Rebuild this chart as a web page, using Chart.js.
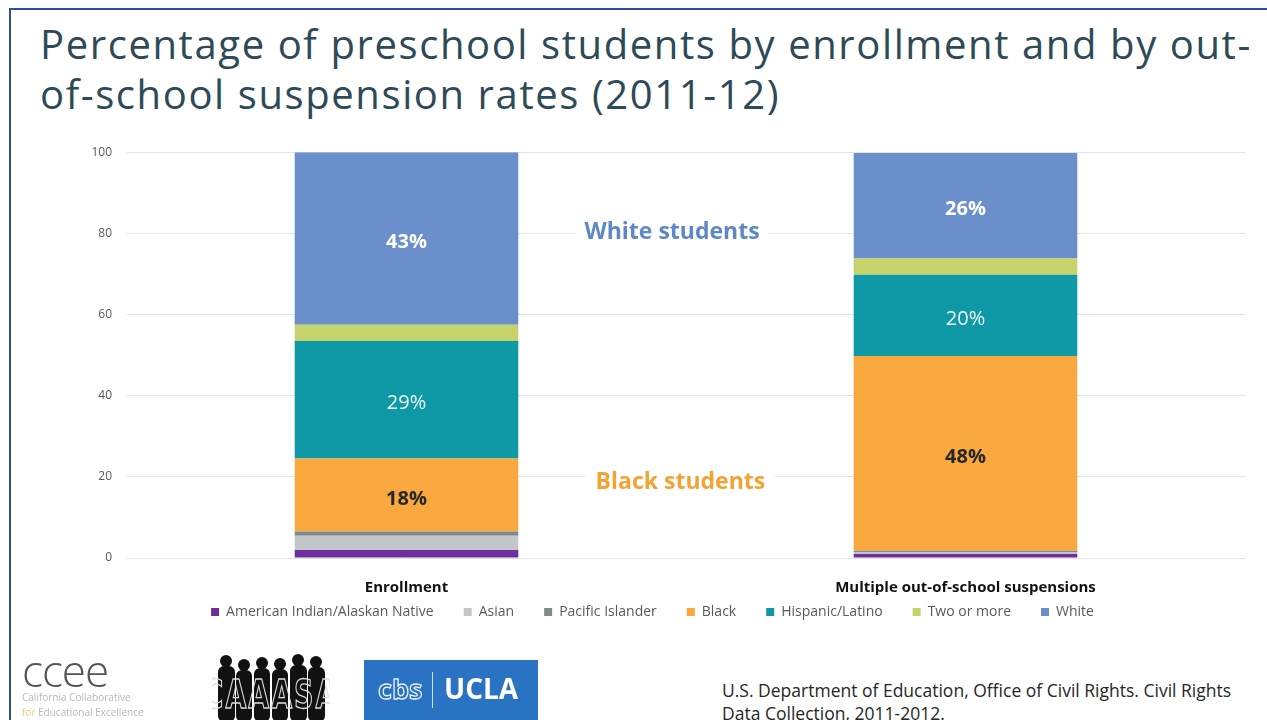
<!DOCTYPE html>
<html>
<head>
<meta charset="utf-8">
<script src="https://cdn.jsdelivr.net/npm/chart.js@4"></script>
<style>
  html, body { margin: 0; padding: 0; background: #fff; }
  body { width: 1267px; height: 720px; position: relative; overflow: hidden; font-family: "Open Sans", sans-serif; }
  .frame { position: absolute; left: 9px; top: 8px; right: -4px; bottom: -4px; border-left: 2px solid #2f4f9c; border-top: 2px solid #2f4f9c; }
  h1 { position: absolute; left: 40px; top: 19px; margin: 0; font-weight: 400; font-size: 40px; line-height: 50px; color: #2e4a57; letter-spacing: 1.6px; }
  #wrap { position: absolute; left: 0; top: 130px; width: 1267px; height: 524px; }
  .ccee { position: absolute; left: 22px; top: 650px; color: #555; }
  .ccee .big { font-size: 44px; line-height: 40px; font-weight: 300; letter-spacing: -1px; }
  .ccee .small { font-size: 10px; line-height: 15px; color: #b5b8bc; }
  .ccee .small b { color: #e8d36b; font-weight: 400; }
  .ucla { position: absolute; left: 364px; top: 660px; width: 174px; height: 64px; background: #2a73c2; color: #fff; }
  .ucla .cbs { position: absolute; left: 14px; top: 10px; font-size: 27px; font-weight: 700; color: transparent; -webkit-text-stroke: 1.3px #e8f1fb; }
  .ucla .bar { position: absolute; left: 68px; top: 12px; width: 1px; height: 36px; background: #cfe0f3; }
  .ucla .name { position: absolute; left: 80px; top: 9px; font-size: 28px; font-weight: 700; font-family: "Open Sans", sans-serif; }
  .src { position: absolute; left: 722px; top: 679px; font-family: "Open Sans", sans-serif; font-size: 17.5px; line-height: 23px; color: #262626; }
  svg.caaasa { position: absolute; left: 212px; top: 652px; }
</style>
</head>
<body>
<div class="frame"></div>
<h1>Percentage of preschool students by enrollment and by out-<br>of-school suspension rates (2011-12)</h1>
<div id="wrap"><canvas id="graphique"></canvas></div>

<div class="ccee">
  <div class="big">ccee</div>
  <div class="small">California Collaborative<br><b>for</b> Educational Excellence</div>
</div>

<svg class="caaasa" width="118" height="70" viewBox="0 0 118 70">
  <g fill="#111">
    <circle cx="14" cy="9" r="6"/><rect x="6" y="14" width="17" height="56" rx="6"/>
    <circle cx="32" cy="13" r="6"/><rect x="24" y="18" width="16" height="52" rx="6"/>
    <circle cx="50" cy="11" r="6"/><rect x="42" y="16" width="16" height="54" rx="6"/>
    <circle cx="68" cy="12" r="6"/><rect x="60" y="17" width="16" height="53" rx="6"/>
    <circle cx="86" cy="8" r="6"/><rect x="78" y="13" width="17" height="57" rx="6"/>
    <circle cx="104" cy="10" r="6"/><rect x="96" y="15" width="17" height="55" rx="6"/>
  </g>
  <text x="59" y="56" text-anchor="middle" font-family="DejaVu Sans Condensed, sans-serif" font-size="30" font-weight="700"
        fill="none" stroke="#ddd" stroke-width="1" letter-spacing="2" transform="scale(1,1.3) translate(0,-13)">CAAASA</text>
</svg>

<div class="ucla"><span class="cbs">cbs</span><span class="bar"></span><span class="name">UCLA</span></div>

<div class="src">U.S. Department of Education, Office of Civil Rights. Civil Rights<br>Data Collection, 2011-2012.</div>

<script>
// categories
const categories = ['Enrollment', 'Multiple out-of-school suspensions'];

// share of students per group (percent), one value per category
const americanIndian = [2, 1];
const asian = [3.5, 0.5];
const pacificIslander = [1, 0.3];
const black = [18, 48];
const hispanic = [29, 20];
const twoOrMore = [4, 4];
const white = [42.5, 26];

const yTicks = [0, 20, 40, 60, 80, 100];

// which segments carry a % label, and in which colour / weight
const segmentLabels = {
  'Black': { color: '#262626', weight: '700' },
  'Hispanic/Latino': { color: '#eef8f8', weight: '400' },
  'White': { color: '#ffffff', weight: '700' }
};

// the two call-outs between the bars (x = index position, y = value)
const callouts = [
  { text: 'White students', x: 0.475, y: 80.3, color: '#5e88c6' },
  { text: 'Black students', x: 0.49, y: 18.7, color: '#f5a233' }
];

const series = [
  { label: 'American Indian/Alaskan Native', data: americanIndian, color: '#6c2f9c' },
  { label: 'Asian', data: asian, color: '#c3c6ca' },
  { label: 'Pacific Islander', data: pacificIslander, color: '#7f8b8c' },
  { label: 'Black', data: black, color: '#f8a83f' },
  { label: 'Hispanic/Latino', data: hispanic, color: '#0f99a6' },
  { label: 'Two or more', data: twoOrMore, color: '#c6d26a' },
  { label: 'White', data: white, color: '#6a8fcb' }
];

// la légende garde un grand espacement horizontal, on la remonte un peu
const pluginLegende = {
  id: 'legendeRemontee',
  afterLayout(chart) {
    const lg = chart.legend;
    if (!lg) return;
    lg.top -= 23;
    lg.bottom -= 23;
  }
};

const pluginEtiquettes = {
  id: 'etiquettes',
  afterDatasetsDraw(chart) {
    const ctx = chart.ctx;
    ctx.save();
    ctx.textAlign = 'center';
    ctx.textBaseline = 'middle';
    chart.data.datasets.forEach((ds, i) => {
      const style = segmentLabels[ds.label];
      if (!style) return;
      chart.getDatasetMeta(i).data.forEach((bar, j) => {
        const p = bar.getProps(['x', 'y', 'base'], true);
        ctx.font = style.weight + ' 20px "Open Sans", sans-serif';
        ctx.fillStyle = style.color;
        ctx.fillText(Math.round(ds.data[j]) + '%', p.x, (p.y + p.base) / 2 + 4);
      });
    });
    // call-outs
    const xs = chart.scales.x, ys = chart.scales.y;
    ctx.font = '700 23px "Open Sans", sans-serif';
    callouts.forEach(c => {
      const px = xs.getPixelForValue(c.x), py = ys.getPixelForValue(c.y);
      const w = ctx.measureText(c.text).width;
      ctx.fillStyle = '#fff';
      ctx.fillRect(px - w / 2 - 10, py - 11, w + 20, 22);
      ctx.fillStyle = c.color;
      ctx.fillText(c.text, px, py);
    });
    ctx.restore();
  }
};

new Chart(document.getElementById('graphique'), {
  type: 'bar',
  data: {
    labels: categories,
    datasets: series.map(s => ({
      label: s.label,
      data: s.data,
      backgroundColor: s.color,
      borderWidth: 0,
      barPercentage: 1,
      categoryPercentage: 0.4
    }))
  },
  options: {
    responsive: true,
    maintainAspectRatio: false,
    animation: false,
    layout: { padding: { top: 12, left: 60, right: 22, bottom: 2 } },
    scales: {
      x: {
        stacked: true,
        grid: { display: false },
        border: { display: false },
        afterFit: scale => { scale.height = 40; },
        ticks: { color: '#111', font: { family: '"Open Sans", sans-serif', size: 15, weight: '700' }, padding: 13 }
      },
      y: {
        stacked: true,
        min: 0,
        max: 100,
        afterBuildTicks: scale => { scale.ticks = yTicks.map(v => ({ value: v })); },
        afterFit: scale => { scale.width = 67; },
        grid: { color: '#e3e3e3', drawTicks: false },
        border: { display: false },
        ticks: { color: '#595959', font: { family: '"Open Sans", sans-serif', size: 12 }, padding: 15 }
      }
    },
    plugins: {
      legend: {
        position: 'bottom',
        labels: {
          boxWidth: 8,
          boxHeight: 8,
          padding: 30,
          color: '#595959',
          font: { family: '"Open Sans", sans-serif', size: 14 }
        }
      },
      tooltip: { enabled: false }
    }
  },
  plugins: [pluginEtiquettes, pluginLegende]
});
</script>
</body>
</html>
